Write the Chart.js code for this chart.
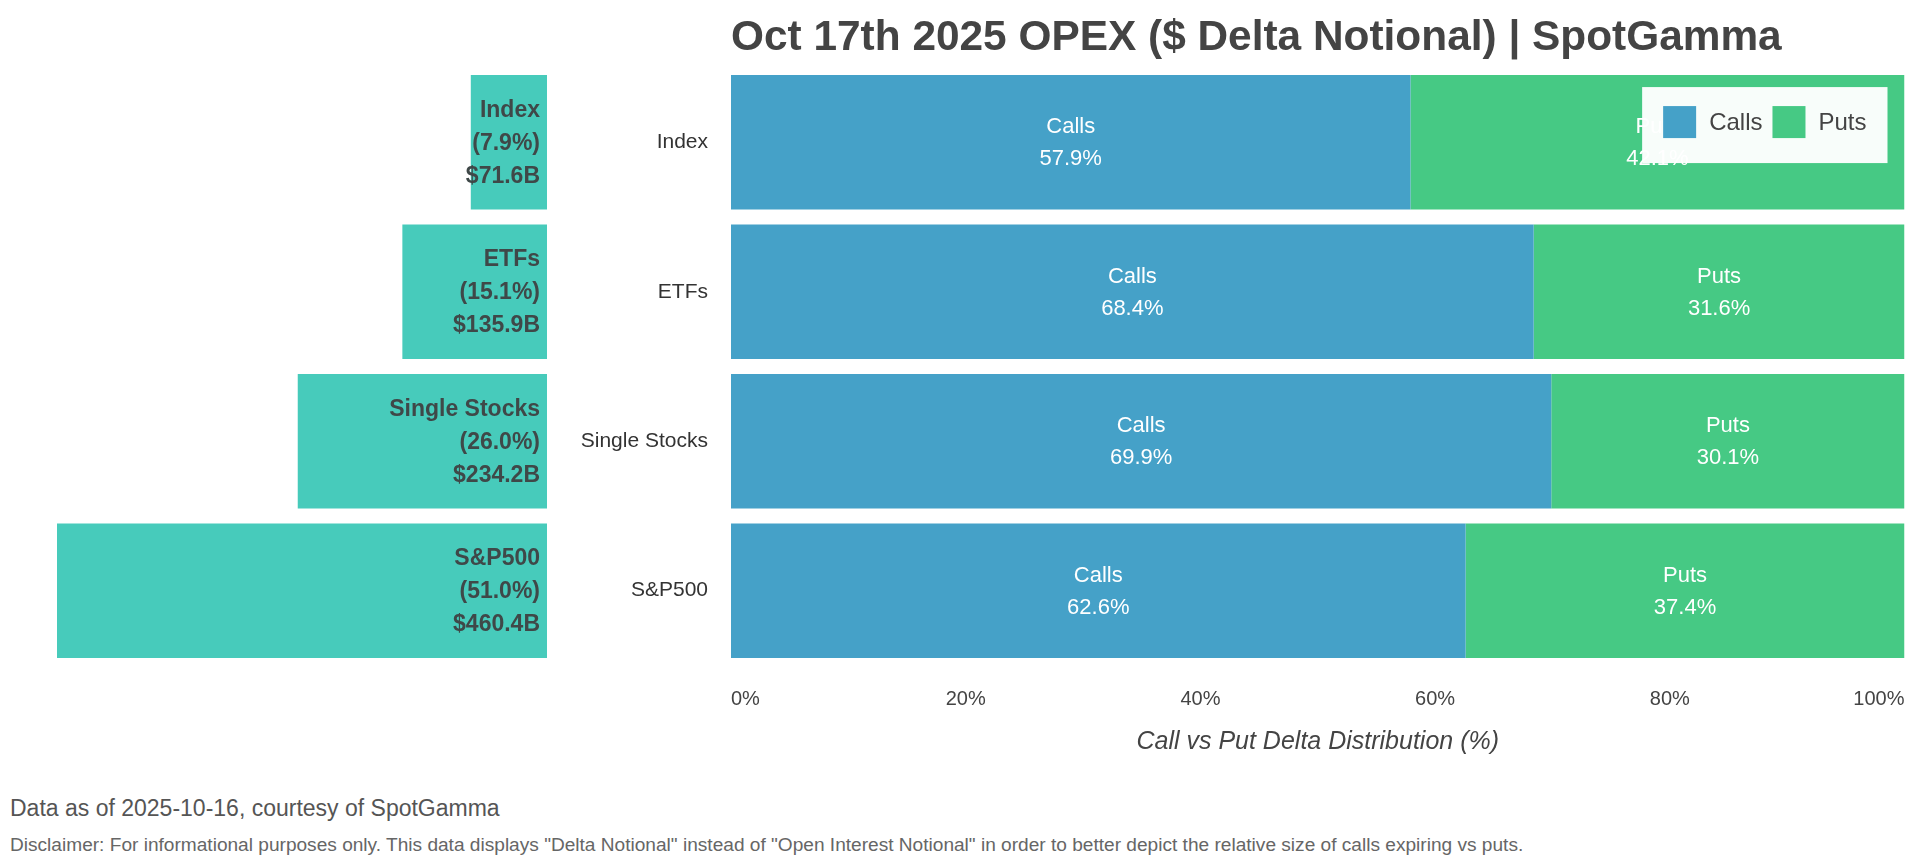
<!DOCTYPE html>
<html>
<head>
<meta charset="utf-8">
<title>Oct 17th 2025 OPEX ($ Delta Notional) | SpotGamma</title>
<script src="https://cdn.jsdelivr.net/npm/chart.js@4.4.1/dist/chart.umd.min.js"></script>
<style>
  html, body {
    margin: 0;
    padding: 0;
    background: #ffffff;
    width: 1920px;
    height: 861px;
    overflow: hidden;
    font-family: "Liberation Sans", Arial, Helvetica, sans-serif;
  }
  #shareChart { position: absolute; left: 0; top: 0; }
  #splitChart { position: absolute; left: 560px; top: 0; }
  .note { position: absolute; left: 10px; white-space: nowrap; }
  #asOf { top: 794px; font-size: 23px; line-height: 28px; color: #555; }
  #disclaimer { top: 834px; font-size: 19.1px; line-height: 22px; color: #666; }
</style>
</head>
<body>
<canvas id="shareChart" width="560" height="770"></canvas>
<canvas id="splitChart" width="1367" height="770"></canvas>
<div class="note" id="asOf">Data as of 2025-10-16, courtesy of SpotGamma</div>
<div class="note" id="disclaimer">Disclaimer: For informational purposes only. This data displays "Delta Notional" instead of "Open Interest Notional" in order to better depict the relative size of calls expiring vs puts.</div>

<script>
/* ============================================
   DATA
   ============================================ */
const categories = ['Index', 'ETFs', 'Single Stocks', 'S&P500'];
const callShare = [57.9, 68.4, 69.9, 62.6];      // % of delta notional in calls
const putShare = [42.1, 31.6, 30.1, 37.4];       // % of delta notional in puts
const notionalB = [71.6, 135.9, 234.2, 460.4];   // $ delta notional, billions
const notionalShare = [7.9, 15.1, 26.0, 51.0];   // % of total notional
const xTickValues = [0, 20, 40, 60, 80, 100];

const FONT = '"Liberation Sans", Arial, Helvetica, sans-serif';
Chart.defaults.font.family = FONT;
Chart.defaults.color = '#444';

/* ============================================
   PLUGINS
   ============================================ */
// Three-line bold label inside each teal bar (right aligned)
const shareLabels = {
  id: 'shareLabels',
  afterDatasetsDraw(chart) {
    const ctx = chart.ctx;
    const meta = chart.getDatasetMeta(0);
    ctx.save();
    ctx.font = 'bold 23px ' + FONT;
    ctx.fillStyle = '#3f4848';
    ctx.textAlign = 'right';
    ctx.textBaseline = 'middle';
    meta.data.forEach((bar, i) => {
      const lines = [
        categories[i],
        '(' + notionalShare[i].toFixed(1) + '%)',
        '$' + notionalB[i].toFixed(1) + 'B'
      ];
      const x = Math.max(bar.x, bar.base) - 7;
      lines.forEach((t, k) => ctx.fillText(t, x, bar.y + 1 + (k - 1) * 33));
    });
    ctx.restore();
  }
};

// "Calls / 57.9%" centered in each stacked segment
const splitLabels = {
  id: 'splitLabels',
  afterDatasetsDraw(chart) {
    const ctx = chart.ctx;
    ctx.save();
    ctx.font = '22px ' + FONT;
    ctx.fillStyle = '#ffffff';
    ctx.textAlign = 'center';
    ctx.textBaseline = 'middle';
    chart.data.datasets.forEach((ds, d) => {
      chart.getDatasetMeta(d).data.forEach((bar, i) => {
        const cx = (bar.x + bar.base) / 2;
        ctx.fillText(ds.label, cx, bar.y - 15);
        ctx.fillText(ds.data[i].toFixed(1) + '%', cx, bar.y + 17);
      });
    });
    ctx.restore();
  }
};

// Legend box floating over the top-right of the plot
const floatingLegend = {
  id: 'floatingLegend',
  afterDraw(chart) {
    const ctx = chart.ctx;
    const area = chart.chartArea;
    ctx.save();
    ctx.font = '24px ' + FONT;
    const items = chart.data.datasets.map(ds => ({
      text: ds.label,
      color: ds.backgroundColor,
      w: ctx.measureText(ds.label).width
    }));
    const pad = 21, sw = 33, sh = 32, gapText = 13, gapItem = 10, h = 76;
    const w = pad * 2 + items.reduce((s, it) => s + sw + gapText + it.w, 0) + gapItem * (items.length - 1);
    const right = area.right - 17;
    const top = area.top + 19.5;
    const left = right - w;

    ctx.fillStyle = 'rgba(255,255,255,0.96)';
    ctx.fillRect(left, top, w, h);

    let x = left + pad;
    const cy = top + h / 2;
    ctx.textAlign = 'left';
    ctx.textBaseline = 'middle';
    items.forEach(it => {
      ctx.fillStyle = it.color;
      ctx.fillRect(x, cy - sh / 2 - 3, sw, sh);
      x += sw + gapText;
      ctx.fillStyle = '#444';
      ctx.fillText(it.text, x, cy - 2);
      x += it.w + gapItem;
    });
    ctx.restore();
  }
};

/* ============================================
   LEFT CHART - SHARE OF TOTAL NOTIONAL
   ============================================ */
new Chart(document.getElementById('shareChart'), {
  type: 'bar',
  data: {
    labels: categories,
    datasets: [{
      label: 'Delta Notional',
      data: notionalB,
      backgroundColor: '#47cbbb',
      barPercentage: 0.9,
      categoryPercentage: 1.0
    }]
  },
  options: {
    indexAxis: 'y',
    responsive: false,
    animation: false,
    layout: { padding: { left: 57, right: 13, top: 67.6, bottom: 104.6 } },
    plugins: {
      legend: { display: false },
      tooltip: { enabled: false }
    },
    scales: {
      x: { display: false, reverse: true, min: 0, max: Math.max(...notionalB) },
      y: { display: false }
    }
  },
  plugins: [shareLabels]
});

/* ============================================
   RIGHT CHART - CALL VS PUT SPLIT
   ============================================ */
new Chart(document.getElementById('splitChart'), {
  type: 'bar',
  data: {
    labels: categories,
    datasets: [{
      label: 'Calls',
      data: callShare,
      backgroundColor: '#45a1c8',
      barPercentage: 0.9,
      categoryPercentage: 1.0
    }, {
      label: 'Puts',
      data: putShare,
      backgroundColor: '#46c984',
      barPercentage: 0.9,
      categoryPercentage: 1.0
    }]
  },
  options: {
    indexAxis: 'y',
    responsive: false,
    animation: false,
    layout: { padding: { left: 0, right: 9, top: 0, bottom: 0 } },
    plugins: {
      legend: { display: false },
      tooltip: { enabled: false },
      title: {
        display: true,
        text: 'Oct 17th 2025 OPEX ($ Delta Notional) | SpotGamma',
        align: 'start',
        fullSize: false,
        color: '#444',
        font: { size: 42.4, weight: 'bold', lineHeight: 1.2 },
        padding: { top: 12.5, bottom: 4.2 }
      }
    },
    scales: {
      x: {
        stacked: true,
        min: xTickValues[0],
        max: xTickValues[xTickValues.length - 1],
        afterBuildTicks: scale => { scale.ticks = xTickValues.map(v => ({ value: v })); },
        afterFit: scale => { scale.height = 104.6; },
        ticks: {
          callback: v => v + '%',
          color: '#444',
          font: { size: 20 },
          padding: 22.5,
          align: 'inner'
        },
        grid: { display: false, drawTicks: false },
        border: { display: false },
        title: {
          display: true,
          text: 'Call vs Put Delta Distribution (%)',
          color: '#444',
          font: { size: 25, style: 'italic' },
          padding: { top: 14, bottom: 13 }
        }
      },
      y: {
        stacked: true,
        afterFit: scale => { scale.width = 171; },
        ticks: { color: '#333', font: { size: 21 }, padding: 23 },
        grid: { display: false, drawTicks: false },
        border: { display: false }
      }
    }
  },
  plugins: [splitLabels, floatingLegend]
});
</script>
</body>
</html>
